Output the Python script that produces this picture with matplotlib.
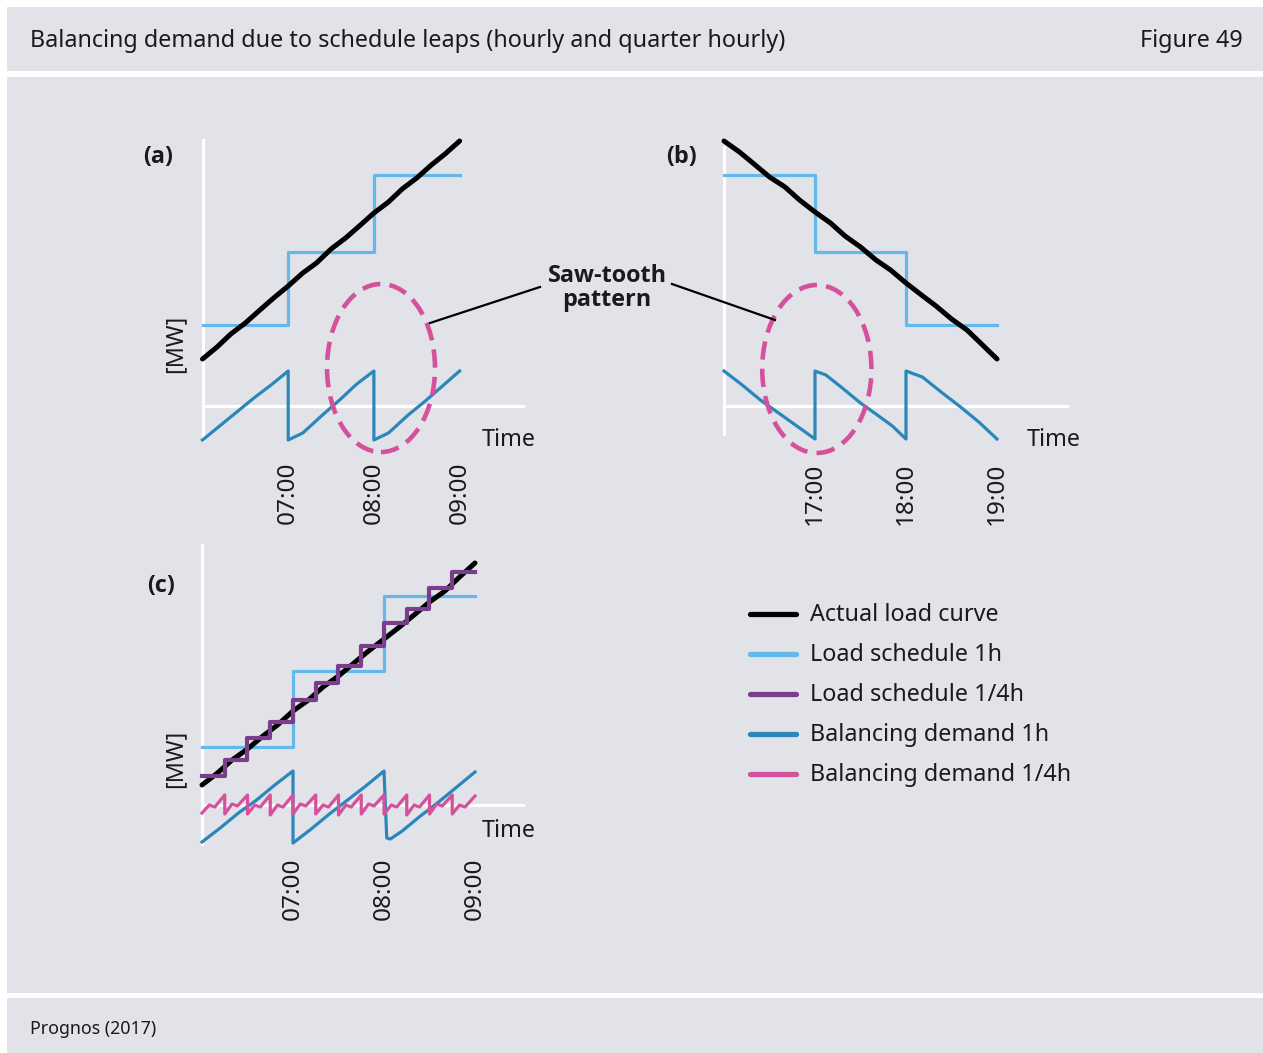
import matplotlib
matplotlib.use('Agg')
import matplotlib.pyplot as plt
from matplotlib.patches import Rectangle, Ellipse
from matplotlib.lines import Line2D

plt.rcParams['font.family'] = ['Noto Sans', 'DejaVu Sans']

# ---------------- data ----------------
title = "Balancing demand due to schedule leaps (hourly and quarter hourly)"
fig_no = "Figure 49"
source = "Prognos (2017)"

# panel (a): morning ramp-up (hours 06:00 - 09:00)
t_load_a = [6.0, 6.17, 6.33, 6.5, 6.67, 6.83, 7.0, 7.17, 7.33, 7.5, 7.67, 7.83,
            8.0, 8.17, 8.33, 8.5, 8.67, 8.83, 9.0]
load_a = [4.7, 5.9, 7.2, 8.3, 9.6, 10.8, 12.0, 13.3, 14.3, 15.7, 16.8, 18.0,
          19.3, 20.4, 21.7, 22.8, 24.1, 25.2, 26.5]
t_sched_a = [6, 7, 8, 9]
sched_a = [8.1, 15.4, 23.1, 23.1]
t_bal_a = [6.0, 6.2, 6.4, 6.6, 6.8, 7.0, 7.0, 7.17, 7.4, 7.6, 7.8, 8.0,
           8.0, 8.17, 8.4, 8.6, 8.8, 9.0]
bal_a = [-3.4, -2.0, -0.6, 0.8, 2.1, 3.5, -3.4, -2.7, -0.9, 0.6, 2.2, 3.5,
         -3.4, -2.7, -0.9, 0.5, 2.0, 3.5]
ticks_a = [7, 8, 9]
ticklabels_a = ["07:00", "08:00", "09:00"]

# panel (b): evening ramp-down (hours 16:00 - 19:00)
t_load_b = [16.0, 16.17, 16.33, 16.5, 16.67, 16.83, 17.0, 17.17, 17.33, 17.5,
            17.67, 17.83, 18.0, 18.17, 18.33, 18.5, 18.67, 18.83, 19.0]
load_b = [26.5, 25.4, 24.2, 22.9, 21.9, 20.6, 19.4, 18.3, 17.0, 15.9, 14.6,
          13.6, 12.3, 11.1, 10.0, 8.7, 7.6, 6.2, 4.7]
t_sched_b = [16, 17, 18, 19]
sched_b = [23.1, 15.4, 8.1, 8.1]
t_bal_b = [16.0, 16.2, 16.4, 16.6, 16.8, 17.0, 17.0, 17.12, 17.3, 17.5, 17.7,
           17.85, 18.0, 18.0, 18.18, 18.4, 18.6, 18.8, 19.0]
bal_b = [3.5, 2.1, 0.6, -0.7, -2.0, -3.3, 3.5, 3.1, 1.8, 0.3, -1.0, -2.0, -3.3,
         3.5, 2.9, 1.3, -0.1, -1.6, -3.3]
ticks_b = [17, 18, 19]
ticklabels_b = ["17:00", "18:00", "19:00"]

# panel (c): hourly vs quarter-hourly schedules
t_load_c = [6.0, 6.17, 6.33, 6.5, 6.67, 6.83, 7.0, 7.17, 7.33, 7.5, 7.67, 7.83,
            8.0, 8.17, 8.33, 8.5, 8.67, 8.83, 9.0]
load_c = [2.0, 3.2, 4.5, 5.6, 6.9, 8.0, 9.4, 10.5, 11.8, 12.9, 14.2, 15.4,
          16.6, 17.8, 19.0, 20.3, 21.4, 22.8, 24.2]
t_sched_c = [6, 7, 8, 9]
sched_c = [5.8, 13.4, 20.9, 20.9]
t_sched_q = [6.0, 6.25, 6.5, 6.75, 7.0, 7.25, 7.5, 7.75, 8.0, 8.25, 8.5, 8.75, 9.0]
sched_q = [2.9, 4.5, 6.7, 8.3, 10.5, 12.2, 13.9, 15.9, 18.2, 19.6, 21.7, 23.3, 23.3]
t_bal_c = [6.0, 6.2, 6.4, 6.6, 6.8, 7.0, 7.0, 7.2, 7.4, 7.6, 7.8, 8.0, 8.03,
           8.07, 8.2, 8.4, 8.6, 8.8, 9.0]
bal_c = [-3.7, -2.3, -0.8, 0.5, 2.0, 3.4, -3.8, -2.4, -0.9, 0.5, 1.9, 3.4, -3.3,
         -3.4, -2.6, -1.1, 0.3, 1.8, 3.3]
t_balq_c = [6.0, 6.08, 6.14, 6.25, 6.25, 6.33, 6.39, 6.5, 6.5, 6.58, 6.64, 6.75,
            6.75, 6.83, 6.89, 7.0, 7.0, 7.08, 7.14, 7.25, 7.25, 7.33, 7.39, 7.5,
            7.5, 7.58, 7.64, 7.75, 7.75, 7.83, 7.89, 8.0, 8.0, 8.08, 8.14, 8.25,
            8.25, 8.33, 8.39, 8.5, 8.5, 8.58, 8.64, 8.75, 8.75, 8.83, 8.89, 9.0]
balq_c = [-0.8, 0.0, -0.2, 1.0, -0.9, 0.1, -0.1, 1.0, -0.9, 0.0, -0.2, 1.0,
          -1.0, 0.0, -0.2, 1.0, -0.9, 0.1, -0.1, 1.0, -0.9, 0.0, -0.2, 1.0,
          -1.0, 0.0, -0.2, 1.0, -0.9, 0.1, -0.1, 1.0, -0.9, 0.0, -0.2, 1.0,
          -1.0, 0.0, -0.2, 1.0, -0.9, 0.1, -0.1, 1.0, -0.9, 0.0, -0.2, 0.9]
ticks_c = [7, 8, 9]
ticklabels_c = ["07:00", "08:00", "09:00"]

legend_labels = ["Actual load curve", "Load schedule 1h", "Load schedule 1/4h",
                 "Balancing demand 1h", "Balancing demand 1/4h"]

# ---------------- style ----------------
W, H = 1263, 1053
GRAY = '#e2e3e8'
C_LOAD = '#000000'
C_S1H = '#62b9ea'
C_SQ = '#7a3d8b'
C_B1H = '#2a87ba'
C_BQ = '#d4529b'
FS = 16.8
TXT = '#1a1a1a'
BOLD_FAMILY = ['Open Sans', 'Roboto', 'DejaVu Sans']

fig = plt.figure(figsize=(W / 100, H / 100), dpi=100)
fig.patch.set_facecolor('white')


def fx(x):
    return x / W


def fy(y):
    return 1 - y / H


def band(x0, y0, x1, y1):
    fig.add_artist(Rectangle((fx(x0), fy(y1)), (x1 - x0) / W, (y1 - y0) / H,
                             transform=fig.transFigure, facecolor=GRAY,
                             edgecolor='none', zorder=0))


band(7, 7, 1263, 71)
band(7, 77, 1263, 993)
band(7, 998, 1263, 1053)

fig.text(fx(30), fy(41), title, fontsize=FS, va='center', ha='left', color=TXT)
fig.text(fx(1243), fy(41), fig_no, fontsize=FS, va='center', ha='right', color=TXT)
fig.text(fx(30), fy(1029), source, fontsize=12.8, va='center', ha='left', color=TXT)


def make_ax(L, T, R, B, t0, x0px, pph, zero_px, ybot, ytop, xend, ppu=10.0):
    ax = fig.add_axes([L / W, 1 - B / H, (R - L) / W, (B - T) / H])
    ax.set_xlim(t0 + (L - x0px) / pph, t0 + (R - x0px) / pph)
    ax.set_ylim((zero_px - B) / ppu, (zero_px - T) / ppu)
    ax.patch.set_visible(False)
    ax.spines['top'].set_visible(False)
    ax.spines['right'].set_visible(False)
    for s in ('left', 'bottom'):
        ax.spines[s].set_color('white')
        ax.spines[s].set_linewidth(2.3)
        ax.spines[s].set_zorder(1)
    ax.spines['left'].set_position(('data', t0))
    ax.spines['left'].set_bounds(ybot, ytop)
    ax.spines['bottom'].set_position(('data', 0))
    ax.spines['bottom'].set_bounds(t0, xend)
    ax.set_xticks([])
    ax.set_yticks([])
    return ax


lw_load, lw_s, lw_b, lw_q = 3.6, 2.3, 2.3, 3.0
TFS = 17.5

# panel (a)
ax_a = make_ax(150, 120, 560, 460, 6.0, 202.5, 85.7, 406, -3.4, 26.6, 9.74)
ax_a.plot(t_sched_a, sched_a, drawstyle='steps-post', color=C_S1H, lw=lw_s, zorder=3)
ax_a.plot(t_load_a, load_a, color=C_LOAD, lw=lw_load, zorder=4, solid_capstyle='round')
ax_a.plot(t_bal_a, bal_a, color=C_B1H, lw=lw_b, zorder=3)
for h, lab in zip(ticks_a, ticklabels_a):
    ax_a.text(h, -5.5, lab, rotation=90, ha='center', va='top', fontsize=TFS, color=TXT)
ax_a.add_patch(Ellipse((8.083, 3.8), 1.26, 16.8, fill=False, edgecolor=C_BQ,
                       lw=3.3, linestyle=(0, (4.0, 2.0)), zorder=5))

# panel (b)
ax_b = make_ax(690, 120, 1090, 460, 16.0, 724, 91.0, 406, -2.8, 25.9, 19.77)
ax_b.plot(t_sched_b, sched_b, drawstyle='steps-post', color=C_S1H, lw=lw_s, zorder=3)
ax_b.plot(t_load_b, load_b, color=C_LOAD, lw=lw_load, zorder=4, solid_capstyle='round')
ax_b.plot(t_bal_b, bal_b, color=C_B1H, lw=lw_b, zorder=3)
for h, lab in zip(ticks_b, ticklabels_b):
    ax_b.text(h, -5.7, lab, rotation=90, ha='center', va='top', fontsize=TFS, color=TXT)
ax_b.add_patch(Ellipse((17.02, 3.7), 1.2, 16.8, fill=False, edgecolor=C_BQ,
                       lw=3.3, linestyle=(0, (4.0, 2.0)), zorder=5))

# panel (c)
ax_c = make_ax(150, 530, 560, 860, 6.0, 202, 91.0, 805, -3.9, 26.0, 9.53)
ax_c.plot(t_sched_c, sched_c, drawstyle='steps-post', color=C_S1H, lw=lw_s, zorder=3)
ax_c.plot(t_load_c, load_c, color=C_LOAD, lw=lw_load, zorder=4, solid_capstyle='round')
ax_c.plot(t_sched_q, sched_q, drawstyle='steps-post', color=C_SQ, lw=lw_q, zorder=5)
ax_c.plot(t_bal_c, bal_c, color=C_B1H, lw=lw_b, zorder=3)
ax_c.plot(t_balq_c, balq_c, color=C_BQ, lw=lw_b, zorder=4)
for h, lab in zip(ticks_c, ticklabels_c):
    ax_c.text(h, -5.2, lab, rotation=90, ha='center', va='top', fontsize=TFS, color=TXT)

# axis texts
for x, y in [(482, 440), (1027, 440), (482, 831)]:
    fig.text(fx(x), fy(y), "Time", fontsize=FS, ha='left', va='center', color=TXT)
for y in [344, 759]:
    fig.text(fx(175), fy(y), "[MW]", fontsize=FS, rotation=90, ha='center', va='center',
             color=TXT)
for x, y, lab in [(143, 157, "(a)"), (666, 157, "(b)"), (147, 586, "(c)")]:
    fig.text(fx(x), fy(y), lab, fontsize=FS, fontweight='bold', family=BOLD_FAMILY,
             ha='left', va='center', color=TXT)

# saw-tooth annotation
fig.text(fx(607), fy(288), "Saw-tooth\npattern", fontsize=FS, fontweight='bold',
         family=BOLD_FAMILY, ha='center', va='center', linespacing=1.0, color=TXT)
fig.add_artist(Line2D([fx(540), fx(430)], [fy(287), fy(323)], color='black', lw=1.6,
                      transform=fig.transFigure))
fig.add_artist(Line2D([fx(672), fx(775)], [fy(284), fy(320)], color='black', lw=1.6,
                      transform=fig.transFigure))

# legend
leg_colors = [C_LOAD, C_S1H, C_SQ, C_B1H, C_BQ]
for i, (lab, col) in enumerate(zip(legend_labels, leg_colors)):
    y = 614 + 40 * i
    fig.add_artist(Line2D([fx(750), fx(796)], [fy(y), fy(y)], color=col, lw=3.8,
                          solid_capstyle='round', transform=fig.transFigure))
    fig.text(fx(810), fy(y + 1), lab, fontsize=FS, ha='left', va='center', color=TXT)

fig.savefig('out.png', dpi=100, facecolor='white')
